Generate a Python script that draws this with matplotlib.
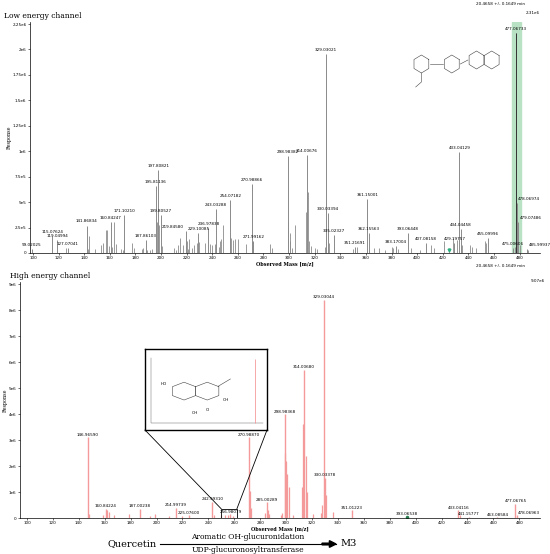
import matplotlib
matplotlib.use("Agg")
import matplotlib.pyplot as plt
from matplotlib.patches import Rectangle, ConnectionPatch, FancyArrow
import numpy as np

# Low energy channel: labelled peaks (m/z, intensity 1e6)
low_mz = [99.02025, 115.07624, 119.04994, 127.07041, 141.86834, 160.84247, 171.10210, 187.86103,
          195.81136, 197.80821, 199.80527, 219.84580, 229.10085, 236.97838, 243.03288, 254.07182,
          270.98866, 271.99162, 298.98382, 314.00676, 329.03021, 330.03394, 335.02327, 351.21691,
          361.15001, 362.15563, 383.17004, 393.06448, 407.08158, 429.19757, 433.04129, 434.04458,
          455.09996, 475.00606, 477.06733, 478.06974, 479.07486, 485.99937]
low_int = [0.04, 0.17, 0.13, 0.05, 0.27, 0.30, 0.37, 0.13, 0.66, 0.82, 0.37, 0.22, 0.20, 0.25,
           0.43, 0.52, 0.68, 0.12, 0.95, 0.96, 1.96, 0.39, 0.18, 0.06, 0.53, 0.20, 0.07, 0.20,
           0.10, 0.10, 0.99, 0.24, 0.15, 0.05, 2.16, 0.49, 0.30, 0.04]
# Low energy channel: unlabelled minor peaks
low_minor_mz = [126, 142.9, 144, 148, 153, 155, 157, 158, 159, 161.5, 163, 165, 169, 170, 177, 179,
                185, 186, 189, 191, 193, 196.5, 198.5, 201, 210, 212, 213, 215, 217, 220.5, 221, 222,
                224, 226, 228, 230, 234, 238, 240, 242, 245, 246, 247, 248, 255, 256, 258, 260, 266,
                285, 287, 299.5, 300.5, 301, 302, 305, 313, 315, 315.5, 317, 320, 322, 328, 331, 350,
                353, 366, 370, 375, 380, 381, 385, 395, 402, 411, 413, 421, 425, 428, 431, 435, 441,
                443, 446, 453, 454, 476.5, 480, 487]
low_minor_int = [0.05, 0.04, 0.17, 0.04, 0.08, 0.1, 0.23, 0.23, 0.07, 0.06, 0.3, 0.09, 0.04, 0.03,
                 0.1, 0.05, 0.04, 0.05, 0.03, 0.03, 0.04, 0.3, 0.28, 0.07, 0.05, 0.03, 0.08, 0.15,
                 0.08, 0.12, 0.04, 0.14, 0.05, 0.08, 0.1, 0.11, 0.1, 0.09, 0.08, 0.09, 0.06, 0.12,
                 0.14, 0.28, 0.15, 0.13, 0.14, 0.14, 0.09, 0.09, 0.05, 0.3, 0.2, 0.12, 0.05, 0.28,
                 0.4, 0.6, 0.12, 0.07, 0.05, 0.04, 0.06, 0.1, 0.04, 0.06, 0.05, 0.05, 0.03, 0.06,
                 0.05, 0.04, 0.05, 0.03, 0.08, 0.05, 0.12, 0.05, 0.15, 0.13, 0.08, 0.08, 0.06, 0.05,
                 0.12, 0.1, 0.06, 0.08, 0.03]

# High energy channel: labelled peaks
high_mz = [146.96590, 160.84224, 187.00238, 214.99739, 225.07600, 242.99310, 256.98079, 270.98870,
           285.00289, 298.98368, 314.00680, 329.03044, 330.03378, 351.01223, 393.06538, 433.04116,
           441.15777, 463.08584, 477.06765, 478.06963]
high_int = [3.1, 0.35, 0.35, 0.40, 0.10, 0.62, 0.15, 3.1, 0.60, 4.0, 5.7, 8.4, 1.55, 0.30, 0.05,
            0.30, 0.05, 0.03, 0.55, 0.10]
high_minor_mz = [148, 159, 162, 163, 167, 179, 195, 199, 210, 220, 244, 250, 253, 255, 259, 272,
                 273, 284, 286, 287, 296, 297, 299.5, 300, 301, 302, 305, 312, 313, 315, 316, 321,
                 327, 328, 331, 336, 434]
high_minor_int = [0.15, 0.1, 0.3, 0.25, 0.1, 0.15, 0.08, 0.15, 0.08, 0.08, 0.1, 0.12, 0.1, 0.1,
                  0.08, 1.05, 0.4, 0.2, 0.3, 0.15, 0.1, 0.2, 2.5, 2.2, 1.7, 1.2, 0.1, 1.2, 3.6,
                  2.4, 1.0, 0.15, 0.2, 0.5, 0.9, 0.25, 0.1]

W, H = 550, 554
fig = plt.figure(figsize=(5.5, 5.54), dpi=100)
fs = 3.0
PINK = "#f59a9a"

def fx(p): return p / W
def fy(p): return 1 - p / H

def setup(ax, ymax, yticks, ylabels, xl):
    ax.set_xlim(xl)
    ax.set_ylim(0, ymax)
    for s in ["top", "right"]:
        ax.spines[s].set_visible(False)
    for s in ["left", "bottom"]:
        ax.spines[s].set_linewidth(0.5)
    ax.set_xticks(np.arange(100, 481, 20))
    ax.set_yticks(yticks)
    ax.set_yticklabels(ylabels)
    ax.tick_params(labelsize=fs, length=1.5, width=0.4, pad=1)
    ax.set_ylabel("Response", fontsize=3.5, family="DejaVu Serif", labelpad=0.5)
    ax.set_xlabel("Observed Mass [m/z]", fontsize=3.5, fontweight="bold", family="DejaVu Serif",
                  labelpad=0.5, loc="center")

def label_peaks(ax, mzs, ints, right_from, left_set=()):
    for m, v in zip(mzs, ints):
        if m >= right_from:
            ax.text(m + 1, v + 0.02, f"{m:.5f}", fontsize=fs, ha="left", va="bottom")
        elif m in left_set:
            ax.text(m - 2, v + 0.02, f"{m:.5f}", fontsize=fs, ha="right", va="bottom")
        else:
            ax.text(m, v + 0.02, f"{m:.5f}", fontsize=fs, ha="center", va="bottom")

# ---- top ----
ax1 = fig.add_axes([fx(30), fy(253), fx(510), fy(22) - fy(253)])
yt = [0, 0.25, 0.5, 0.75, 1, 1.25, 1.5, 1.75, 2, 2.25]
setup(ax1, 2.27, yt, ["0", "2.5e5", "5e5", "7.5e5", "1e6", "1.25e6", "1.5e6", "1.75e6", "2e6", "2.25e6"], (97.6, 496))
ax1.axvspan(474.5, 481.5, color="#b9e2c4", zorder=0)
ax1.vlines(low_minor_mz, 0, low_minor_int, color="#8a8a8a", lw=0.6)
ax1.vlines(low_mz, 0, low_int, color="#8a8a8a", lw=0.7)
ax1.vlines([477.06733], 0, [2.16], color="#333333", lw=0.7)
label_peaks(ax1, low_mz, low_int, 478, left_set=(219.84580,))
ax1.plot([425], [0.03], marker="v", ms=2, color="#2ab07f")
ax1.set_title("Low energy channel", loc="left", fontsize=5.5, family="DejaVu Serif", pad=3, x=-0.05)
fig.text(fx(540), fy(14), "2.31e6", fontsize=fs, ha="right")
fig.text(fx(500), fy(5), "20.4658 +/- 0.1649 min", fontsize=fs, ha="center")
fig.text(fx(500), fy(267), "20.4658 +/- 0.1649 min", fontsize=fs, ha="center")

# simple structure sketch (decorative)
sa = fig.add_axes([fx(410), fy(90), fx(95), fy(40) - fy(90)])
sa.axis("off"); sa.set_xlim(0, 10); sa.set_ylim(0, 5)
def hexa(ax, cx, cy, r):
    t = np.linspace(np.pi / 6, np.pi / 6 + 2 * np.pi, 7)
    ax.plot(cx + r * np.cos(t), cy + r * np.sin(t), color="#444444", lw=0.4)
hexa(sa, 1.2, 2.6, 0.9); hexa(sa, 4.4, 2.6, 0.9); hexa(sa, 7.0, 3.0, 0.9); hexa(sa, 8.6, 3.0, 0.9)
sa.plot([2.1, 3.5], [2.6, 2.6], color="#444444", lw=0.4)
sa.plot([5.3, 6.1], [2.6, 3.0], color="#444444", lw=0.4)
sa.plot([1.2, 1.2, 0.6], [1.7, 0.8, 0.3], color="#444444", lw=0.4)

# ---- bottom ----
ax2 = fig.add_axes([fx(20), fy(518), fx(520), fy(282) - fy(518)])
yt2 = list(range(10))
setup(ax2, 9.08, yt2, ["0", "1e6", "2e6", "3e6", "4e6", "5e6", "6e6", "7e6", "8e6", "9e6"], (94.6, 496))
ax2.vlines(high_minor_mz, 0, high_minor_int, color=PINK, lw=0.9)
ax2.vlines(high_mz, 0, high_int, color=PINK, lw=1.0)
label_peaks(ax2, high_mz, high_int, 478)
ax2.plot([393], [0.05], marker="o", ms=1.5, color="#2a8050")
ax2.set_title("High energy channel", loc="left", fontsize=5.5, family="DejaVu Serif", pad=3, x=-0.02)
fig.text(fx(545), fy(282), "9.07e6", fontsize=fs, ha="right")

# zoom box and inset
ax2.add_patch(Rectangle((250, 0), 12, 0.35, fill=False, ec="black", lw=0.6, zorder=5))
ins = fig.add_axes([fx(145), fy(430), fx(122), fy(349) - fy(430)])
ins.set_xticks([]); ins.set_yticks([])
for s in ins.spines.values():
    s.set_linewidth(1.0)
ins.set_xlim(0, 10); ins.set_ylim(0, 10)
ins.plot([0.5, 0.5, 9.7], [8.9, 0.9, 0.9], color="#555555", lw=0.3)
ins.vlines([9.0], 0.9, 8.8, color=PINK, lw=0.6)
hexa(ins, 3.2, 4.8, 1.1); hexa(ins, 5.1, 4.8, 1.1)
ins.plot([6.0, 7.0], [5.4, 6.3], color="#444444", lw=0.4)
ins.text(1.3, 5.6, "HO", fontsize=3); ins.text(3.8, 2.0, "OH", fontsize=3)
ins.text(6.4, 3.6, "OH", fontsize=3); ins.text(5.0, 2.3, "O", fontsize=3)
fig.add_artist(ConnectionPatch((0, 0), (250, 0.35), "axes fraction", "data", axesA=ins, axesB=ax2, lw=0.6))
fig.add_artist(ConnectionPatch((1, 0), (262, 0.35), "axes fraction", "data", axesA=ins, axesB=ax2, lw=0.6))

# reaction scheme
ry = 544
fig.text(fx(132), fy(ry), "Quercetin", fontsize=7, family="DejaVu Serif", ha="center", va="center")
fig.add_artist(plt.Line2D([fx(160), fx(336)], [fy(ry), fy(ry)], color="black", lw=0.8))
fig.patches.append(FancyArrow(fx(322), fy(ry), fx(14), 0, width=0.003,
                   head_width=0.012, head_length=0.012, length_includes_head=True, color="black",
                   transform=fig.transFigure, figure=fig))
fig.text(fx(248), fy(537), "Aromatic OH-glucuronidation", fontsize=5.5, family="DejaVu Serif", ha="center", va="center")
fig.text(fx(248), fy(550), "UDP-glucuronosyltransferase", fontsize=5.5, family="DejaVu Serif", ha="center", va="center")
fig.text(fx(340), fy(ry), "M3", fontsize=7, family="DejaVu Serif", ha="left", va="center")

fig.savefig("out.png", dpi=100)
